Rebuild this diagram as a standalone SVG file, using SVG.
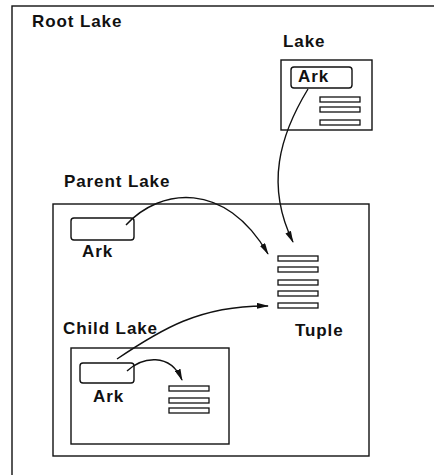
<svg xmlns="http://www.w3.org/2000/svg" width="434" height="475" viewBox="0 0 434 475">
<defs>
<style>
.box{fill:none;stroke:#111;stroke-width:1.4}
.ark{fill:#fff;stroke:#111;stroke-width:1.4}
.bar{fill:#fff;stroke:#111;stroke-width:1.3}
.lbl{font-family:"Liberation Sans",Arial,sans-serif;font-weight:bold;font-size:17px;letter-spacing:0.9px;fill:#111}
.con{fill:none;stroke:#111;stroke-width:1.4}
</style>
<marker id="ah" viewBox="0 0 12 6" refX="11" refY="3" markerWidth="12" markerHeight="6" markerUnits="userSpaceOnUse" orient="auto">
<path d="M0,0 L12,3 L0,6 Z" fill="#111"/>
</marker>
</defs>
<rect width="434" height="475" fill="#fff"/>
<g id="root-lake">
<rect class="box" x="12" y="6" width="440" height="490"/>
<text class="lbl" x="32" y="27">Root Lake</text>
</g>
<g id="lake">
<text class="lbl" x="283" y="47">Lake</text>
<rect class="box" x="281" y="60" width="91" height="70"/>
<rect class="ark" x="291" y="67" width="61" height="21" rx="3"/>
<text class="lbl" x="298" y="82">Ark</text>
<rect class="bar" x="320" y="97" width="40" height="5"/>
<rect class="bar" x="320" y="107" width="40" height="5"/>
<rect class="bar" x="320" y="120" width="40" height="5"/>
</g>
<g id="parent-lake">
<text class="lbl" x="64" y="187">Parent Lake</text>
<rect class="box" x="53" y="204" width="316" height="252"/>
<rect class="ark" x="71" y="218" width="63" height="22" rx="3"/>
<text class="lbl" x="82" y="257">Ark</text>
</g>
<g id="tuple">
<rect class="bar" x="278" y="256" width="40" height="5"/>
<rect class="bar" x="278" y="267" width="40" height="5"/>
<rect class="bar" x="278" y="280" width="40" height="5"/>
<rect class="bar" x="278" y="291" width="40" height="5"/>
<rect class="bar" x="278" y="303" width="40" height="5"/>
<text class="lbl" x="295" y="336">Tuple</text>
</g>
<g id="child-lake">
<text class="lbl" x="63" y="334">Child Lake</text>
<rect class="box" x="71" y="348" width="158" height="96"/>
<rect class="ark" x="80" y="363" width="54" height="20" rx="3"/>
<text class="lbl" x="93" y="402">Ark</text>
<rect class="bar" x="169" y="386" width="40" height="5"/>
<rect class="bar" x="169" y="398" width="40" height="5"/>
<rect class="bar" x="169" y="408" width="40" height="5"/>
</g>
<g id="connectors">
<path class="con" marker-end="url(#ah)" d="M308,89 C280,135 265,185 293,242"/>
<path class="con" marker-end="url(#ah)" d="M126,225 C160,188 225,180 268,254"/>
<path class="con" marker-end="url(#ah)" d="M117,359 C160,330 200,305 268,306"/>
<path class="con" marker-end="url(#ah)" d="M127,371 C142,357 170,352 182,380"/>
</g>
</svg>
